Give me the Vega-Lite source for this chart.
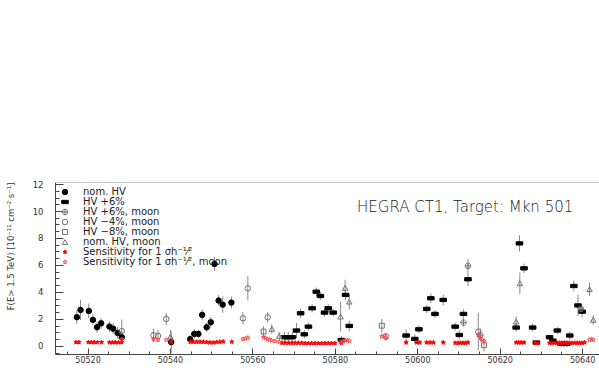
{
 "$schema": "https://vega.github.io/schema/vega-lite/v6.json",
 "width": 544, "height": 172,
 "autosize": {"type": "none"},
 "padding": {"left": 55, "top": 182, "right": 0, "bottom": 28},
 "background": "white",
 "config": {"view": {"stroke": null}, "font": "DejaVu Sans", "axis": {"grid": false, "labelFont": "DejaVu Sans", "titleFont": "DejaVu Sans"}},
 "datasets": {
  "pts": [
   {"d":50517.4,"f":2.13,"lo":1.63,"hi":2.63,"s":"nom. HV"},
   {"d":50518.3,"f":2.67,"lo":1.92,"hi":3.42,"s":"nom. HV"},
   {"d":50520.3,"f":2.59,"lo":2.04,"hi":3.14,"s":"nom. HV"},
   {"d":50521.3,"f":1.93,"lo":1.53,"hi":2.33,"s":"nom. HV"},
   {"d":50522.3,"f":1.38,"lo":0.98,"hi":1.78,"s":"nom. HV"},
   {"d":50523.3,"f":1.68,"lo":1.28,"hi":2.08,"s":"nom. HV"},
   {"d":50525.3,"f":1.43,"lo":1.03,"hi":1.83,"s":"nom. HV"},
   {"d":50526.2,"f":1.28,"lo":0.88,"hi":1.68,"s":"nom. HV"},
   {"d":50527.3,"f":0.96,"lo":0.51,"hi":1.41,"s":"nom. HV"},
   {"d":50528.3,"f":0.64,"lo":0.14,"hi":1.14,"s":"nom. HV"},
   {"d":50540.3,"f":0.28,"lo":-0.52,"hi":1.08,"s":"nom. HV"},
   {"d":50544.9,"f":0.5,"lo":0.2,"hi":0.8,"s":"nom. HV"},
   {"d":50545.9,"f":0.89,"lo":0.54,"hi":1.24,"s":"nom. HV"},
   {"d":50546.9,"f":0.89,"lo":0.59,"hi":1.19,"s":"nom. HV"},
   {"d":50547.8,"f":2.3,"lo":1.9,"hi":2.7,"s":"nom. HV"},
   {"d":50548.9,"f":1.38,"lo":1.03,"hi":1.73,"s":"nom. HV"},
   {"d":50549.9,"f":1.75,"lo":1.35,"hi":2.15,"s":"nom. HV"},
   {"d":50550.8,"f":6.07,"lo":5.57,"hi":6.57,"s":"nom. HV"},
   {"d":50551.8,"f":3.36,"lo":2.96,"hi":3.76,"s":"nom. HV"},
   {"d":50552.8,"f":3.06,"lo":2.46,"hi":3.66,"s":"nom. HV"},
   {"d":50554.9,"f":3.21,"lo":2.76,"hi":3.66,"s":"nom. HV"},

   {"d":50567.8,"f":0.64,"lo":0.24,"hi":1.04,"s":"HV +6%"},
   {"d":50568.7,"f":0.64,"lo":0.24,"hi":1.04,"s":"HV +6%"},
   {"d":50569.7,"f":0.64,"lo":0.24,"hi":1.04,"s":"HV +6%"},
   {"d":50570.7,"f":1.14,"lo":0.59,"hi":1.69,"s":"HV +6%"},
   {"d":50571.7,"f":2.42,"lo":2.07,"hi":2.77,"s":"HV +6%"},
   {"d":50572.6,"f":0.86,"lo":0.56,"hi":1.16,"s":"HV +6%"},
   {"d":50573.6,"f":1.43,"lo":1.13,"hi":1.73,"s":"HV +6%"},
   {"d":50574.5,"f":2.79,"lo":2.49,"hi":3.09,"s":"HV +6%"},
   {"d":50575.5,"f":4.02,"lo":3.72,"hi":4.32,"s":"HV +6%"},
   {"d":50576.5,"f":3.7,"lo":3.4,"hi":4.0,"s":"HV +6%"},
   {"d":50577.5,"f":2.47,"lo":2.17,"hi":2.77,"s":"HV +6%"},
   {"d":50578.4,"f":2.79,"lo":2.49,"hi":3.09,"s":"HV +6%"},
   {"d":50579.6,"f":2.47,"lo":2.17,"hi":2.77,"s":"HV +6%"},
   {"d":50581.6,"f":0.44,"lo":0.14,"hi":0.74,"s":"HV +6%"},
   {"d":50582.6,"f":3.78,"lo":3.38,"hi":4.18,"s":"HV +6%"},
   {"d":50583.5,"f":1.48,"lo":1.08,"hi":1.88,"s":"HV +6%"},
   {"d":50597.3,"f":0.77,"lo":0.32,"hi":1.22,"s":"HV +6%"},
   {"d":50599.4,"f":0.52,"lo":0.17,"hi":0.87,"s":"HV +6%"},
   {"d":50600.4,"f":1.23,"lo":0.93,"hi":1.53,"s":"HV +6%"},
   {"d":50602.3,"f":2.74,"lo":2.44,"hi":3.04,"s":"HV +6%"},
   {"d":50603.3,"f":3.53,"lo":3.18,"hi":3.88,"s":"HV +6%"},
   {"d":50604.3,"f":2.37,"lo":2.07,"hi":2.67,"s":"HV +6%"},
   {"d":50606.3,"f":3.41,"lo":3.01,"hi":3.81,"s":"HV +6%"},
   {"d":50609.2,"f":1.43,"lo":1.13,"hi":1.73,"s":"HV +6%"},
   {"d":50610.2,"f":0.81,"lo":0.46,"hi":1.16,"s":"HV +6%"},
   {"d":50611.2,"f":2.37,"lo":2.02,"hi":2.72,"s":"HV +6%"},
   {"d":50612.3,"f":4.94,"lo":4.44,"hi":5.44,"s":"HV +6%"},
   {"d":50624.0,"f":1.36,"lo":1.06,"hi":1.66,"s":"HV +6%"},
   {"d":50624.8,"f":7.6,"lo":7.0,"hi":8.2,"s":"HV +6%"},
   {"d":50625.9,"f":5.75,"lo":5.4,"hi":6.1,"s":"HV +6%"},
   {"d":50628.0,"f":1.36,"lo":1.06,"hi":1.66,"s":"HV +6%"},
   {"d":50628.9,"f":0.25,"lo":0.1,"hi":0.4,"s":"HV +6%"},
   {"d":50632.1,"f":0.64,"lo":0.44,"hi":0.84,"s":"HV +6%"},
   {"d":50632.9,"f":0.39,"lo":0.19,"hi":0.59,"s":"HV +6%"},
   {"d":50634.0,"f":1.14,"lo":0.89,"hi":1.39,"s":"HV +6%"},
   {"d":50634.9,"f":0.15,"lo":-0.1,"hi":0.4,"s":"HV +6%"},
   {"d":50635.6,"f":0.15,"lo":-0.1,"hi":0.4,"s":"HV +6%"},
   {"d":50636.3,"f":0.15,"lo":-0.1,"hi":0.4,"s":"HV +6%"},
   {"d":50637.0,"f":0.77,"lo":0.47,"hi":1.07,"s":"HV +6%"},
   {"d":50638.0,"f":4.44,"lo":4.04,"hi":4.84,"s":"HV +6%"},
   {"d":50639.0,"f":3.0,"lo":2.2,"hi":3.8,"s":"HV +6%"},
   {"d":50640.0,"f":2.54,"lo":2.09,"hi":2.99,"s":"HV +6%"},

   {"d":50611.2,"f":1.73,"lo":1.43,"hi":2.03,"s":"HV +6%, moon"},
   {"d":50612.3,"f":5.93,"lo":5.43,"hi":6.43,"s":"HV +6%, moon"},
   {"d":50615.3,"f":0.8,"lo":0.3,"hi":1.3,"s":"HV +6%, moon"},
   {"d":50639.7,"f":2.74,"lo":2.44,"hi":3.04,"s":"HV +6%, moon"},

   {"d":50528.3,"f":1.1,"lo":0.25,"hi":1.95,"s":"HV −4%, moon"},
   {"d":50536.0,"f":0.79,"lo":0.29,"hi":1.29,"s":"HV −4%, moon"},
   {"d":50537.1,"f":0.74,"lo":0.29,"hi":1.19,"s":"HV −4%, moon"},
   {"d":50539.1,"f":2.0,"lo":1.55,"hi":2.45,"s":"HV −4%, moon"},
   {"d":50557.7,"f":2.05,"lo":1.6,"hi":2.5,"s":"HV −4%, moon"},
   {"d":50558.9,"f":4.27,"lo":3.37,"hi":5.17,"s":"HV −4%, moon"},
   {"d":50563.7,"f":2.12,"lo":1.72,"hi":2.52,"s":"HV −4%, moon"},
   {"d":50592.4,"f":0.69,"lo":0.39,"hi":0.99,"s":"HV −4%, moon"},
   {"d":50614.8,"f":1.06,"lo":-0.34,"hi":2.46,"s":"HV −4%, moon"},

   {"d":50562.7,"f":1.06,"lo":0.66,"hi":1.46,"s":"HV −8%, moon"},
   {"d":50591.4,"f":1.5,"lo":1.0,"hi":2.0,"s":"HV −8%, moon"},
   {"d":50616.2,"f":0.05,"lo":-0.4,"hi":0.5,"s":"HV −8%, moon"},

   {"d":50540.1,"f":0.69,"lo":0.19,"hi":1.19,"s":"nom. HV, moon"},
   {"d":50564.7,"f":1.26,"lo":0.91,"hi":1.61,"s":"nom. HV, moon"},
   {"d":50566.5,"f":0.74,"lo":0.44,"hi":1.04,"s":"nom. HV, moon"},
   {"d":50581.4,"f":2.17,"lo":1.07,"hi":3.27,"s":"nom. HV, moon"},
   {"d":50582.5,"f":4.3,"lo":3.7,"hi":4.9,"s":"nom. HV, moon"},
   {"d":50583.5,"f":3.28,"lo":2.73,"hi":3.83,"s":"nom. HV, moon"},
   {"d":50624.0,"f":1.8,"lo":1.4,"hi":2.2,"s":"nom. HV, moon"},
   {"d":50624.9,"f":4.64,"lo":3.84,"hi":5.44,"s":"nom. HV, moon"},
   {"d":50641.8,"f":4.2,"lo":3.7,"hi":4.7,"s":"nom. HV, moon"},
   {"d":50642.7,"f":1.93,"lo":1.58,"hi":2.28,"s":"nom. HV, moon"},

   {"d":50517.2,"f":0.27,"s":"Sensitivity for 1 σh⁻¹⁄²"},
   {"d":50517.9,"f":0.27,"s":"Sensitivity for 1 σh⁻¹⁄²"},
   {"d":50520.2,"f":0.27,"s":"Sensitivity for 1 σh⁻¹⁄²"},
   {"d":50520.9,"f":0.27,"s":"Sensitivity for 1 σh⁻¹⁄²"},
   {"d":50521.6,"f":0.27,"s":"Sensitivity for 1 σh⁻¹⁄²"},
   {"d":50522.4,"f":0.27,"s":"Sensitivity for 1 σh⁻¹⁄²"},
   {"d":50523.4,"f":0.27,"s":"Sensitivity for 1 σh⁻¹⁄²"},
   {"d":50525.3,"f":0.26,"s":"Sensitivity for 1 σh⁻¹⁄²"},
   {"d":50526.0,"f":0.26,"s":"Sensitivity for 1 σh⁻¹⁄²"},
   {"d":50526.7,"f":0.26,"s":"Sensitivity for 1 σh⁻¹⁄²"},
   {"d":50527.5,"f":0.26,"s":"Sensitivity for 1 σh⁻¹⁄²"},
   {"d":50528.3,"f":0.27,"s":"Sensitivity for 1 σh⁻¹⁄²"},
   {"d":50540.3,"f":0.3,"s":"Sensitivity for 1 σh⁻¹⁄²"},
   {"d":50544.9,"f":0.3,"s":"Sensitivity for 1 σh⁻¹⁄²"},
   {"d":50545.7,"f":0.3,"s":"Sensitivity for 1 σh⁻¹⁄²"},
   {"d":50546.5,"f":0.3,"s":"Sensitivity for 1 σh⁻¹⁄²"},
   {"d":50547.3,"f":0.3,"s":"Sensitivity for 1 σh⁻¹⁄²"},
   {"d":50548.1,"f":0.3,"s":"Sensitivity for 1 σh⁻¹⁄²"},
   {"d":50548.9,"f":0.28,"s":"Sensitivity for 1 σh⁻¹⁄²"},
   {"d":50549.7,"f":0.25,"s":"Sensitivity for 1 σh⁻¹⁄²"},
   {"d":50550.5,"f":0.25,"s":"Sensitivity for 1 σh⁻¹⁄²"},
   {"d":50551.3,"f":0.28,"s":"Sensitivity for 1 σh⁻¹⁄²"},
   {"d":50552.1,"f":0.3,"s":"Sensitivity for 1 σh⁻¹⁄²"},
   {"d":50552.9,"f":0.32,"s":"Sensitivity for 1 σh⁻¹⁄²"},
   {"d":50555.0,"f":0.3,"s":"Sensitivity for 1 σh⁻¹⁄²"},
   {"d":50567.2,"f":0.22,"s":"Sensitivity for 1 σh⁻¹⁄²"},
   {"d":50568.0,"f":0.22,"s":"Sensitivity for 1 σh⁻¹⁄²"},
   {"d":50568.8,"f":0.22,"s":"Sensitivity for 1 σh⁻¹⁄²"},
   {"d":50569.6,"f":0.22,"s":"Sensitivity for 1 σh⁻¹⁄²"},
   {"d":50570.4,"f":0.22,"s":"Sensitivity for 1 σh⁻¹⁄²"},
   {"d":50571.2,"f":0.22,"s":"Sensitivity for 1 σh⁻¹⁄²"},
   {"d":50572.0,"f":0.22,"s":"Sensitivity for 1 σh⁻¹⁄²"},
   {"d":50572.8,"f":0.2,"s":"Sensitivity for 1 σh⁻¹⁄²"},
   {"d":50573.6,"f":0.2,"s":"Sensitivity for 1 σh⁻¹⁄²"},
   {"d":50574.4,"f":0.2,"s":"Sensitivity for 1 σh⁻¹⁄²"},
   {"d":50575.2,"f":0.2,"s":"Sensitivity for 1 σh⁻¹⁄²"},
   {"d":50576.0,"f":0.2,"s":"Sensitivity for 1 σh⁻¹⁄²"},
   {"d":50576.8,"f":0.2,"s":"Sensitivity for 1 σh⁻¹⁄²"},
   {"d":50577.6,"f":0.2,"s":"Sensitivity for 1 σh⁻¹⁄²"},
   {"d":50578.4,"f":0.2,"s":"Sensitivity for 1 σh⁻¹⁄²"},
   {"d":50579.2,"f":0.2,"s":"Sensitivity for 1 σh⁻¹⁄²"},
   {"d":50580.0,"f":0.2,"s":"Sensitivity for 1 σh⁻¹⁄²"},
   {"d":50581.6,"f":0.22,"s":"Sensitivity for 1 σh⁻¹⁄²"},
   {"d":50597.3,"f":0.25,"s":"Sensitivity for 1 σh⁻¹⁄²"},
   {"d":50599.9,"f":0.25,"s":"Sensitivity for 1 σh⁻¹⁄²"},
   {"d":50600.6,"f":0.25,"s":"Sensitivity for 1 σh⁻¹⁄²"},
   {"d":50602.3,"f":0.25,"s":"Sensitivity for 1 σh⁻¹⁄²"},
   {"d":50603.1,"f":0.25,"s":"Sensitivity for 1 σh⁻¹⁄²"},
   {"d":50603.9,"f":0.25,"s":"Sensitivity for 1 σh⁻¹⁄²"},
   {"d":50606.3,"f":0.25,"s":"Sensitivity for 1 σh⁻¹⁄²"},
   {"d":50609.2,"f":0.22,"s":"Sensitivity for 1 σh⁻¹⁄²"},
   {"d":50609.9,"f":0.22,"s":"Sensitivity for 1 σh⁻¹⁄²"},
   {"d":50610.5,"f":0.22,"s":"Sensitivity for 1 σh⁻¹⁄²"},
   {"d":50611.1,"f":0.22,"s":"Sensitivity for 1 σh⁻¹⁄²"},
   {"d":50611.7,"f":0.22,"s":"Sensitivity for 1 σh⁻¹⁄²"},
   {"d":50612.3,"f":0.25,"s":"Sensitivity for 1 σh⁻¹⁄²"},
   {"d":50624.0,"f":0.25,"s":"Sensitivity for 1 σh⁻¹⁄²"},
   {"d":50624.6,"f":0.25,"s":"Sensitivity for 1 σh⁻¹⁄²"},
   {"d":50625.2,"f":0.25,"s":"Sensitivity for 1 σh⁻¹⁄²"},
   {"d":50625.9,"f":0.25,"s":"Sensitivity for 1 σh⁻¹⁄²"},
   {"d":50628.6,"f":0.22,"s":"Sensitivity for 1 σh⁻¹⁄²"},
   {"d":50629.2,"f":0.22,"s":"Sensitivity for 1 σh⁻¹⁄²"},
   {"d":50632.1,"f":0.22,"s":"Sensitivity for 1 σh⁻¹⁄²"},
   {"d":50632.7,"f":0.22,"s":"Sensitivity for 1 σh⁻¹⁄²"},
   {"d":50633.3,"f":0.22,"s":"Sensitivity for 1 σh⁻¹⁄²"},
   {"d":50633.9,"f":0.22,"s":"Sensitivity for 1 σh⁻¹⁄²"},
   {"d":50634.5,"f":0.22,"s":"Sensitivity for 1 σh⁻¹⁄²"},
   {"d":50635.1,"f":0.22,"s":"Sensitivity for 1 σh⁻¹⁄²"},
   {"d":50635.7,"f":0.22,"s":"Sensitivity for 1 σh⁻¹⁄²"},
   {"d":50636.3,"f":0.22,"s":"Sensitivity for 1 σh⁻¹⁄²"},
   {"d":50637.0,"f":0.22,"s":"Sensitivity for 1 σh⁻¹⁄²"},
   {"d":50637.6,"f":0.22,"s":"Sensitivity for 1 σh⁻¹⁄²"},
   {"d":50638.2,"f":0.22,"s":"Sensitivity for 1 σh⁻¹⁄²"},
   {"d":50638.8,"f":0.22,"s":"Sensitivity for 1 σh⁻¹⁄²"},
   {"d":50639.4,"f":0.22,"s":"Sensitivity for 1 σh⁻¹⁄²"},
   {"d":50640.0,"f":0.22,"s":"Sensitivity for 1 σh⁻¹⁄²"},
   {"d":50640.6,"f":0.25,"s":"Sensitivity for 1 σh⁻¹⁄²"},

   {"d":50528.3,"f":0.5,"s":"Sensitivity for 1 σh⁻¹⁄², moon"},
   {"d":50536.0,"f":0.5,"s":"Sensitivity for 1 σh⁻¹⁄², moon"},
   {"d":50537.1,"f":0.45,"s":"Sensitivity for 1 σh⁻¹⁄², moon"},
   {"d":50539.1,"f":0.45,"s":"Sensitivity for 1 σh⁻¹⁄², moon"},
   {"d":50557.7,"f":0.5,"s":"Sensitivity for 1 σh⁻¹⁄², moon"},
   {"d":50558.3,"f":0.55,"s":"Sensitivity for 1 σh⁻¹⁄², moon"},
   {"d":50558.9,"f":0.6,"s":"Sensitivity for 1 σh⁻¹⁄², moon"},
   {"d":50562.7,"f":0.65,"s":"Sensitivity for 1 σh⁻¹⁄², moon"},
   {"d":50563.2,"f":0.58,"s":"Sensitivity for 1 σh⁻¹⁄², moon"},
   {"d":50563.7,"f":0.5,"s":"Sensitivity for 1 σh⁻¹⁄², moon"},
   {"d":50564.2,"f":0.45,"s":"Sensitivity for 1 σh⁻¹⁄², moon"},
   {"d":50564.7,"f":0.4,"s":"Sensitivity for 1 σh⁻¹⁄², moon"},
   {"d":50565.5,"f":0.35,"s":"Sensitivity for 1 σh⁻¹⁄², moon"},
   {"d":50566.5,"f":0.3,"s":"Sensitivity for 1 σh⁻¹⁄², moon"},
   {"d":50581.4,"f":0.3,"s":"Sensitivity for 1 σh⁻¹⁄², moon"},
   {"d":50582.0,"f":0.35,"s":"Sensitivity for 1 σh⁻¹⁄², moon"},
   {"d":50582.5,"f":0.4,"s":"Sensitivity for 1 σh⁻¹⁄², moon"},
   {"d":50583.0,"f":0.42,"s":"Sensitivity for 1 σh⁻¹⁄², moon"},
   {"d":50583.5,"f":0.38,"s":"Sensitivity for 1 σh⁻¹⁄², moon"},
   {"d":50591.4,"f":0.7,"s":"Sensitivity for 1 σh⁻¹⁄², moon"},
   {"d":50592.0,"f":0.75,"s":"Sensitivity for 1 σh⁻¹⁄², moon"},
   {"d":50592.4,"f":0.6,"s":"Sensitivity for 1 σh⁻¹⁄², moon"},
   {"d":50614.8,"f":0.8,"s":"Sensitivity for 1 σh⁻¹⁄², moon"},
   {"d":50615.3,"f":0.6,"s":"Sensitivity for 1 σh⁻¹⁄², moon"},
   {"d":50615.8,"f":0.45,"s":"Sensitivity for 1 σh⁻¹⁄², moon"},
   {"d":50616.2,"f":0.35,"s":"Sensitivity for 1 σh⁻¹⁄², moon"},
   {"d":50641.8,"f":0.45,"s":"Sensitivity for 1 σh⁻¹⁄², moon"},
   {"d":50642.3,"f":0.5,"s":"Sensitivity for 1 σh⁻¹⁄², moon"},
   {"d":50642.7,"f":0.45,"s":"Sensitivity for 1 σh⁻¹⁄², moon"}
  ],
  "note": [{"d": 50585.4, "f": 10.3, "t": "HEGRA CT1, Target: Mkn 501"}]
 },
 "layer": [
  {
   "mark": {"type": "rule", "color": "#b4b4b4", "strokeDash": [4, 3], "strokeWidth": 1},
   "encoding": {"y": {"datum": 0, "type": "quantitative", "scale": {"domain": [-0.6, 12.15], "nice": false, "zero": false}, "axis": null}}
  },
  {
   "data": {"name": "pts"},
   "transform": [{"filter": "datum.lo != null"}],
   "mark": {"type": "rule", "color": "#8a8a8a", "strokeWidth": 1, "clip": true},
   "encoding": {
    "x": {"field": "d", "type": "quantitative", "scale": {"domain": [50512.1, 50644.1], "nice": false, "zero": false},
          "axis": {"orient": "bottom", "values": [50515,50520,50525,50530,50535,50540,50545,50550,50555,50560,50565,50570,50575,50580,50585,50590,50595,50600,50605,50610,50615,50620,50625,50630,50635,50640], "tickSize": -3, "labels": false, "domain": false, "title": null, "tickColor": "#444"}},
    "y": {"field": "lo", "type": "quantitative", "scale": {"domain": [-0.6, 12.15], "nice": false, "zero": false},
          "axis": {"orient": "left", "values": [-0.5,0,0.5,1,1.5,2,2.5,3,3.5,4,4.5,5,5.5,6,6.5,7,7.5,8,8.5,9,9.5,10,10.5,11,11.5,12], "tickSize": -4, "labels": false, "domain": false, "title": null, "tickColor": "#444"}},
    "y2": {"field": "hi"}
   }
  },
  {
   "data": {"name": "pts"},
   "mark": {"type": "point", "size": 30, "opacity": 1, "strokeWidth": 1},
   "encoding": {
    "x": {"field": "d", "type": "quantitative", "scale": {"domain": [50512.1, 50644.1], "nice": false, "zero": false},
          "axis": {"orient": "bottom", "values": [50520,50540,50560,50580,50600,50620,50640], "format": "d", "tickSize": -6, "labelPadding": 8, "labelFontSize": 8, "labelColor": "#333", "domainColor": "#444", "tickColor": "#444", "title": null, "labelFlush": false}},
    "y": {"field": "f", "type": "quantitative", "scale": {"domain": [-0.6, 12.15], "nice": false, "zero": false},
          "axis": {"orient": "left", "values": [0,2,4,6,8,10,12], "tickSize": -8, "labelPadding": 20, "labelFontSize": 8.5, "labelColor": "#333", "domainColor": "#444", "tickColor": "#444",
                   "title": "F(E> 1.5 TeV) [10⁻¹¹ cm⁻² s⁻¹]", "titleFontSize": 8.5, "titleFontWeight": "normal", "titleColor": "#333", "titleAngle": -90, "titleAlign": "right", "titleBaseline": "middle", "titleX": -45, "titleY": 0}},
    "shape": {"field": "s", "type": "nominal",
      "scale": {"domain": ["nom. HV","HV +6%","HV +6%, moon","HV −4%, moon","HV −8%, moon","nom. HV, moon","Sensitivity for 1 σh⁻¹⁄²","Sensitivity for 1 σh⁻¹⁄², moon"],
                "range": ["circle","M-1.2,-0.6H1.2V0.6H-1.2Z","M-1,0A1,1 0 1,0 1,0A1,1 0 1,0 -1,0M-1,0H1M0,-1V1","circle","M-0.9,-0.9H0.9V0.9H-0.9Z","triangle-up",
                          "M0,-0.8L0.188,-0.259L0.761,-0.247L0.304,0.099L0.47,0.647L0,0.32L-0.47,0.647L-0.304,0.099L-0.761,-0.247L-0.188,-0.259Z",
                          "M0,-0.8L0.188,-0.259L0.761,-0.247L0.304,0.099L0.47,0.647L0,0.32L-0.47,0.647L-0.304,0.099L-0.761,-0.247L-0.188,-0.259Z"]},
      "legend": {"title": null, "orient": "top-left", "offset": 5, "padding": 0, "labelFontSize": 10, "labelFont": "DejaVu Sans", "labelColor": "#222", "symbolSize": 30, "rowPadding": -6.3, "labelOffset": 13, "symbolStrokeWidth": 1}},
    "fill": {"field": "s", "type": "nominal",
      "scale": {"domain": ["nom. HV","HV +6%","HV +6%, moon","HV −4%, moon","HV −8%, moon","nom. HV, moon","Sensitivity for 1 σh⁻¹⁄²","Sensitivity for 1 σh⁻¹⁄², moon"],
                "range": ["#000000","#000000","transparent","transparent","transparent","transparent","#ff0000","transparent"]},
      "legend": {"title": null}},
    "stroke": {"field": "s", "type": "nominal",
      "scale": {"domain": ["nom. HV","HV +6%","HV +6%, moon","HV −4%, moon","HV −8%, moon","nom. HV, moon","Sensitivity for 1 σh⁻¹⁄²","Sensitivity for 1 σh⁻¹⁄², moon"],
                "range": ["#000000","#000000","#707070","#707070","#707070","#707070","#ff0000","#ff4a4a"]},
      "legend": {"title": null}}
   }
  },
  {
   "data": {"name": "note"},
   "mark": {"type": "text", "align": "left", "baseline": "middle", "fontSize": 15, "fontWeight": 200, "font": "DejaVu Sans", "color": "#222", "clip": true},
   "encoding": {
    "x": {"field": "d", "type": "quantitative", "scale": {"domain": [50512.1, 50644.1], "nice": false, "zero": false},
          "axis": {"orient": "top", "ticks": false, "labels": false, "domainColor": "#c8c8c8", "title": null}},
    "y": {"field": "f", "type": "quantitative", "scale": {"domain": [-0.6, 12.15], "nice": false, "zero": false}, "axis": null},
    "text": {"field": "t"}
   }
  }
 ],
 "resolve": {"axis": {"x": "independent", "y": "independent"}}
}
